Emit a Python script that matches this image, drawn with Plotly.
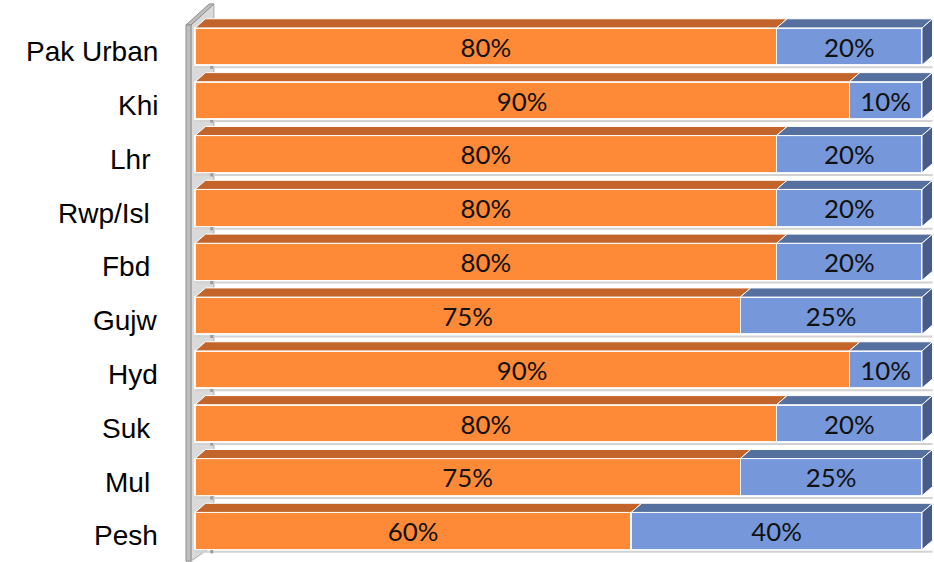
import plotly.graph_objects as go

# Share of respondents per city (percent), stacked to 100
categories = ["Pak Urban", "Khi", "Lhr ", "Rwp/Isl ", "Fbd ", "Gujw", "Hyd", "Suk ", "Mul ", "Pesh"]
share_a = [80, 90, 80, 80, 80, 75, 90, 80, 75, 60]
share_b = [20, 10, 20, 20, 20, 25, 10, 20, 25, 40]

# Colours for the three visible faces of each 3-D bar
ORANGE_FRONT, ORANGE_TOP = "#FE8937", "#C3652B"
BLUE_FRONT, BLUE_TOP, BLUE_SIDE = "#7698DA", "#55709F", "#475C88"

# Bar geometry in axis units
BAR_W = 0.69      # front-face thickness
DX, DY = 1.45, 0.17  # depth offset of top / side faces

ypos = list(range(len(categories)))

fig = go.Figure()
fig.add_trace(go.Bar(
    y=ypos, x=share_a, orientation="h", width=BAR_W,
    marker=dict(color=ORANGE_FRONT, line=dict(color="rgba(255,255,255,0.9)", width=1.5)),
    text=[f"{v}%" for v in share_a], textposition="inside", insidetextanchor="middle",
    textfont=dict(family="Lato", size=29, color="#111111"), textangle=0,
    hoverinfo="skip", showlegend=False,
))
fig.add_trace(go.Bar(
    y=ypos, x=share_b, base=share_a, orientation="h", width=BAR_W,
    marker=dict(color=BLUE_FRONT, line=dict(color="rgba(255,255,255,0.9)", width=1.5)),
    text=[f"{v}%" for v in share_b], textposition="inside", insidetextanchor="middle",
    textfont=dict(family="Lato", size=29, color="#111111"), textangle=0,
    hoverinfo="skip", showlegend=False,
))

shapes = []


def poly(points, fill, line="white", width=1, layer="above"):
    path = "M " + " L ".join(f"{x},{y}" for x, y in points) + " Z"
    shapes.append(dict(type="path", path=path, xref="x", yref="y",
                       fillcolor=fill, line=dict(color=line, width=width), layer=layer))


# Side wall on the left (value axis floor)
poly([(-0.55, -0.40), (2.6, -0.79), (2.6, 9.26), (-0.55, 9.56)], "#DADADA", "#A8A8A8", 1, "below")
poly([(-1.24, -0.40), (1.95, -0.79), (2.6, -0.79), (-0.55, -0.40)], "#BDBDBD", "#909090", 1, "below")
poly([(-1.24, -0.40), (-0.55, -0.40), (-0.55, 9.56), (-1.24, 9.56)], "#BEBEBE", "#909090", 1, "below")

for i, (a, b) in enumerate(zip(share_a, share_b)):
    top = i - BAR_W / 2
    bot = i + BAR_W / 2
    total = a + b
    # faint shadow line under each bar
    shapes.append(dict(type="line", xref="x", yref="y", x0=0, x1=total + DX,
                       y0=bot + 0.04, y1=bot + 0.04, line=dict(color="#D2D2D2", width=2),
                       layer="below"))
    # small tick mark on the wall
    shapes.append(dict(type="rect", xref="x", yref="y", x0=2.1, x1=2.5,
                       y0=bot + 0.01, y1=bot + 0.07, fillcolor="#9A9A9A",
                       line=dict(width=0), layer="below"))
    # top faces
    poly([(0, top), (a, top), (a + DX, top - DY), (DX, top - DY)], ORANGE_TOP)
    poly([(a, top), (total, top), (total + DX, top - DY), (a + DX, top - DY)], BLUE_TOP)
    # right side face
    poly([(total, top), (total + DX, top - DY), (total + DX, bot - DY), (total, bot)], BLUE_SIDE)

# Category labels, set slightly below each bar's centre line
annotations = [
    dict(text=name, x=-0.0265, xref="paper", y=i, yref="y", yshift=-5,
         xanchor="right", yanchor="middle", showarrow=False,
         font=dict(family="Liberation Sans, Arial", size=28, color="#000000"))
    for i, name in zip(ypos, categories)
]

fig.update_layout(
    barmode="stack",
    width=934, height=562,
    margin=dict(l=180, r=0, t=2, b=0),
    paper_bgcolor="white", plot_bgcolor="white",
    shapes=shapes,
    annotations=annotations,
    xaxis=dict(range=[-2.063, 101.65], visible=False, showgrid=False, zeroline=False),
    yaxis=dict(range=[9.576, -0.8267], tickvals=ypos, showticklabels=False,
               showgrid=False, zeroline=False, showline=False, ticks="", automargin=False),
)

fig.write_html("out.html")
